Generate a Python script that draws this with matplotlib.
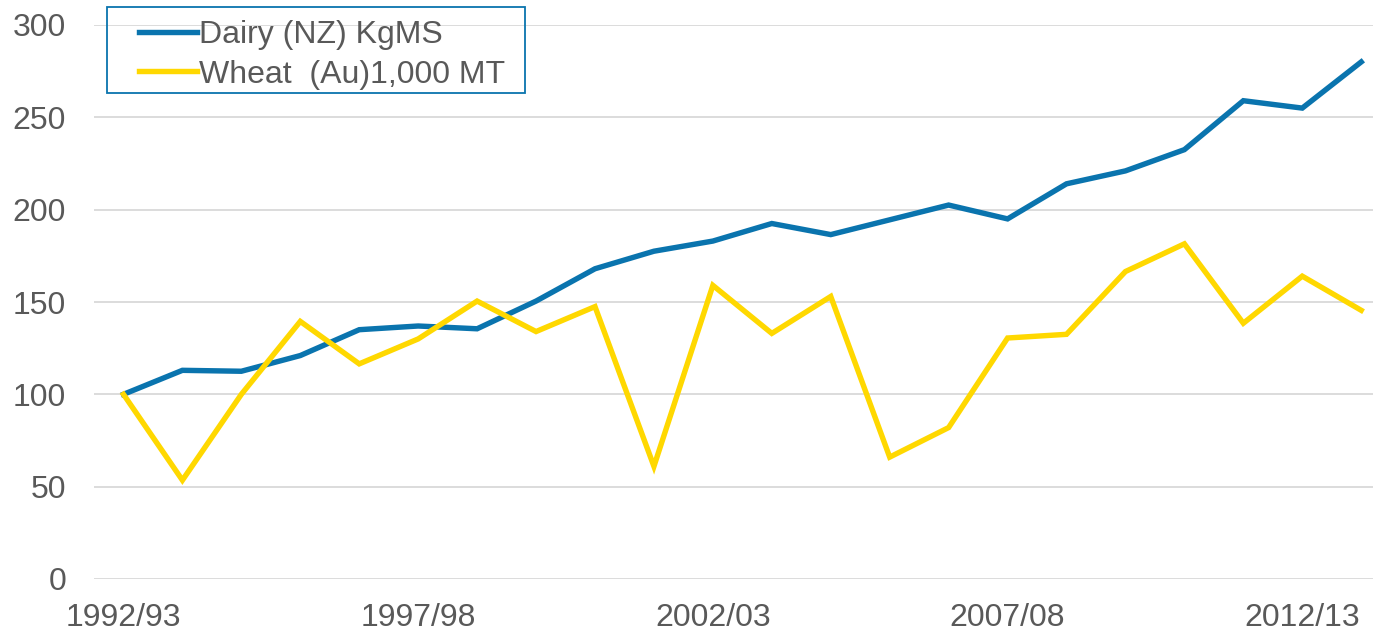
import numpy as np
import matplotlib
matplotlib.use("Agg")
from matplotlib import pyplot as plt
from matplotlib.patches import Rectangle

# seasons, 1992/93 .. 2013/14
seasons = ["%d/%02d" % (y, (y + 1) % 100) for y in range(1992, 2014)]

# index values (1992/93 = 100)
dairy = [100, 113, 112.5, 121, 135, 137, 135.5, 150.5, 168, 177.5, 183, 192.5,
         186.5, 194.5, 202.5, 195, 214, 221, 232.5, 259, 255, 280]
wheat = [100, 53.5, 100, 139.5, 116.5, 130, 150.5, 134, 147.5, 61, 159, 133,
         153, 66, 82, 130.5, 132.5, 166.5, 181.5, 138.5, 164, 145.5]

tick_pos = [0, 5, 10, 15, 20]
yticks = [0, 50, 100, 150, 200, 250, 300]

plt.rcParams['font.family'] = ['Liberation Sans', 'DejaVu Sans']
grey = '#595959'
blue = '#0A74AE'
W, H = 1373, 636

fig = plt.figure(figsize=(13.73, 6.36), dpi=100)
ax = fig.add_axes([94 / W, 57 / H, 1 - 94 / W, 554 / H])

x = np.arange(len(seasons))
ax.plot(x, dairy, color=blue, lw=3.9, solid_joinstyle='miter',
        label='Dairy (NZ) KgMS', clip_on=False, zorder=3)
ax.plot(x, wheat, color='#FFD800', lw=3.9, solid_joinstyle='miter',
        label='Wheat  (Au)1,000 MT', clip_on=False, zorder=3)

ax.set_xlim(-0.5, 21.2)
ax.set_ylim(0, 300)
ax.set_yticks(yticks)
ax.set_xticks(tick_pos)
ax.set_xticklabels([seasons[i] for i in tick_pos])

ax.grid(axis='y', color='#D9D9D9', lw=1.3)
ax.set_axisbelow(True)
for s in ax.spines.values():
    s.set_visible(False)
ax.tick_params(length=0, labelsize=23, labelcolor=grey)
ax.tick_params(axis='y', pad=20)
ax.tick_params(axis='x', pad=17)

# legend without frame, box drawn separately
leg = ax.legend(loc='upper left', bbox_to_anchor=(139 / W, 1 - 20 / H),
                bbox_transform=fig.transFigure, borderaxespad=0,
                fontsize=23, frameon=False, borderpad=0,
                handlelength=1.8, handletextpad=0.08, labelspacing=0.3)
for t in leg.get_texts():
    t.set_color(grey)
fig.patches.append(Rectangle((107 / W, 1 - 93 / H), 418 / W, 86 / H,
                             transform=fig.transFigure, fill=False,
                             edgecolor=blue, lw=1.3, zorder=5))

fig.savefig('out.png', dpi=100)
